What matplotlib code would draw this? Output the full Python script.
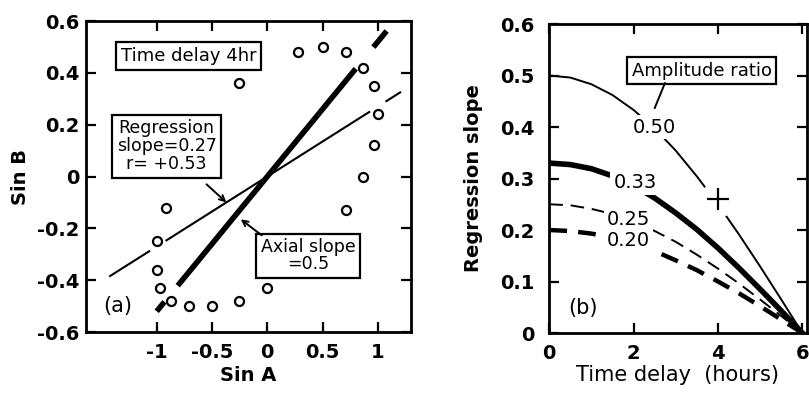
import matplotlib
matplotlib.use("Agg")
import matplotlib.pyplot as plt
import numpy as np

plt.rcParams['axes.unicode_minus'] = False
plt.rcParams['font.family'] = ['DejaVu Sans']

# ---------------- Panel (a) data ----------------
sinA = [0.28, 0.50, 0.71, 0.87, 0.97, 1.00, 0.97, 0.87, 0.71,
        -0.26, -0.92, -1.00, -1.00, -0.97, -0.87, -0.71, -0.50, -0.26, 0.00]
sinB = [0.48, 0.50, 0.48, 0.42, 0.35, 0.24, 0.12, 0.00, -0.13,
        0.36, -0.12, -0.25, -0.36, -0.43, -0.48, -0.50, -0.50, -0.48, -0.43]
regression_slope = 0.27
axial_slope = 0.52
# segments of the drawn lines (x extents)
reg_segments = [(-1.43, -1.06), (-0.92, 0.93), (1.07, 1.21)]
axial_solid = [(-0.81, 0.80)]
axial_dashed = [(-1.00, -0.93), (0.96, 1.08)]

a_xticks = [-1, -0.5, 0, 0.5, 1]
a_xticklabels = ['-1', '-0.5', '0', '0.5', '1']
a_yticks = [-0.6, -0.4, -0.2, 0, 0.2, 0.4, 0.6]
a_yticklabels = ['-0.6', '-0.4', '-0.2', '0', '0.2', '0.4', '0.6']

# ---------------- Panel (b) data ----------------
delay = [0, 0.5, 1, 1.5, 2, 2.5, 3, 3.5, 4, 4.5, 5, 5.5, 6]
slope_050 = [0.500, 0.496, 0.483, 0.462, 0.433, 0.397, 0.354, 0.304, 0.250, 0.191, 0.129, 0.065, 0.000]
slope_033 = [0.330, 0.327, 0.319, 0.305, 0.286, 0.262, 0.233, 0.201, 0.165, 0.126, 0.085, 0.043, 0.000]
slope_025 = [0.250, 0.248, 0.241, 0.231, 0.217, 0.198, 0.177, 0.152, 0.125, 0.096, 0.065, 0.033, 0.000]
slope_020 = [0.200, 0.198, 0.193, 0.185, 0.173, 0.159, 0.141, 0.122, 0.100, 0.077, 0.052, 0.026, 0.000]
ratio_labels = ['0.50', '0.33', '0.25', '0.20']
plus_point = (4, 0.26)

b_xticks = [0, 2, 4, 6]
b_yticks = [0, 0.1, 0.2, 0.3, 0.4, 0.5, 0.6]
b_yticklabels = ['0', '0.1', '0.2', '0.3', '0.4', '0.5', '0.6']

fig = plt.figure(figsize=(8.09, 3.99), dpi=100)
ax1 = fig.add_axes([0.1063, 0.1679, 0.4017, 0.7794])
ax2 = fig.add_axes([0.679, 0.1654, 0.318, 0.7744])

def style(ax):
    for s in ax.spines.values():
        s.set_linewidth(2.0)
    ax.tick_params(direction='in', length=7, width=1.6, top=True, right=True,
                   labelsize=14)
    for lab in ax.get_xticklabels() + ax.get_yticklabels():
        lab.set_fontweight('bold')

# ---------- Panel (a) ----------
ax1.set_xlim(-1.64, 1.30)
ax1.set_ylim(-0.6, 0.6)
for x0, x1 in reg_segments:
    xs = np.array([x0, x1])
    ax1.plot(xs, regression_slope * xs, color='black', lw=1.5, solid_capstyle='butt', zorder=2)
for x0, x1 in axial_solid:
    xs = np.array([x0, x1])
    ax1.plot(xs, axial_slope * xs, color='black', lw=4.0, solid_capstyle='butt', zorder=2)
for x0, x1 in axial_dashed:
    xs = np.array([x0, x1])
    ax1.plot(xs, axial_slope * xs, color='black', lw=4.0, solid_capstyle='butt', zorder=2)
ax1.plot(sinA, sinB, 'o', markersize=6.5, markerfacecolor='white',
         markeredgecolor='black', markeredgewidth=1.6, zorder=3, linestyle='none')

ax1.set_xticks(a_xticks)
ax1.set_xticklabels(a_xticklabels)
ax1.set_yticks(a_yticks)
ax1.set_yticklabels(a_yticklabels)
ax1.tick_params(axis='x', pad=8)
ax1.tick_params(axis='y', pad=5)
ax1.set_xlabel('Sin A', fontsize=14, fontweight='bold', labelpad=3)
ax1.set_ylabel('Sin B', fontsize=14, fontweight='bold', labelpad=5)
style(ax1)

box = dict(boxstyle='square,pad=0.25', facecolor='white', edgecolor='black', linewidth=1.6)
ax1.text(-0.71, 0.465, 'Time delay 4hr', fontsize=13, ha='center', va='center', bbox=box)
ax1.text(-0.91, 0.116, 'Regression\nslope=0.27\nr= +0.53', fontsize=12.5, ha='center',
         va='center', linespacing=1.0, bbox=box)
ax1.annotate('', xy=(-0.37, -0.10), xytext=(-0.55, -0.03),
             arrowprops=dict(arrowstyle='->', color='black', lw=1.4, shrinkA=0, shrinkB=0))
ax1.text(0.37, -0.305, 'Axial slope\n=0.5', fontsize=12.5, ha='center', va='center',
         linespacing=0.95, bbox=box)
ax1.annotate('', xy=(-0.24, -0.165), xytext=(-0.05, -0.227),
             arrowprops=dict(arrowstyle='->', color='black', lw=1.4, shrinkA=0, shrinkB=0))
ax1.text(-1.35, -0.50, '(a)', fontsize=15, ha='center', va='center')

# ---------- Panel (b) ----------
ax2.set_xlim(0, 6.1)
ax2.set_ylim(0, 0.6)
ax2.plot(delay, slope_050, color='black', lw=1.4, zorder=2)
ax2.plot(delay, slope_033, color='black', lw=4.0, zorder=2)
ax2.plot(delay, slope_025, color='black', lw=1.4, dashes=(7, 4), zorder=2)
ax2.plot(delay, slope_020, color='black', lw=3.2, dashes=(4, 2.5), zorder=2)

lab_bbox = dict(boxstyle='square,pad=0.15', facecolor='white', edgecolor='none')
ax2.text(2.5, 0.40, ratio_labels[0], fontsize=14, ha='center', va='center', bbox=lab_bbox, zorder=4)
ax2.text(2.03, 0.292, ratio_labels[1], fontsize=14, ha='center', va='center', bbox=lab_bbox, zorder=4)
ax2.text(1.87, 0.220, ratio_labels[2], fontsize=14, ha='center', va='center', bbox=lab_bbox, zorder=4)
ax2.text(1.87, 0.179, ratio_labels[3], fontsize=14, ha='center', va='center', bbox=lab_bbox, zorder=4)

ax2.plot([plus_point[0]], [plus_point[1]], 'o', markersize=26, markerfacecolor='white',
         markeredgecolor='none', zorder=3)
ax2.plot([plus_point[0]], [plus_point[1]], '+', markersize=16, markeredgewidth=1.6,
         color='black', zorder=4)

ax2.text(3.61, 0.509, 'Amplitude ratio', fontsize=13, ha='center', va='center', bbox=box, zorder=5)
ax2.plot([2.74, 2.50], [0.485, 0.437], color='black', lw=1.4, zorder=5)
ax2.text(0.80, 0.049, '(b)', fontsize=15, ha='center', va='center')

ax2.set_xticks(b_xticks)
ax2.set_yticks(b_yticks)
ax2.set_yticklabels(b_yticklabels)
ax2.tick_params(axis='x', pad=8)
ax2.tick_params(axis='y', pad=11)
ax2.set_xlabel('Time delay  (hours)', fontsize=15, labelpad=1)
ax2.set_ylabel('Regression slope', fontsize=14, fontweight='bold', labelpad=12)
style(ax2)

fig.savefig('out.png', dpi=100)
